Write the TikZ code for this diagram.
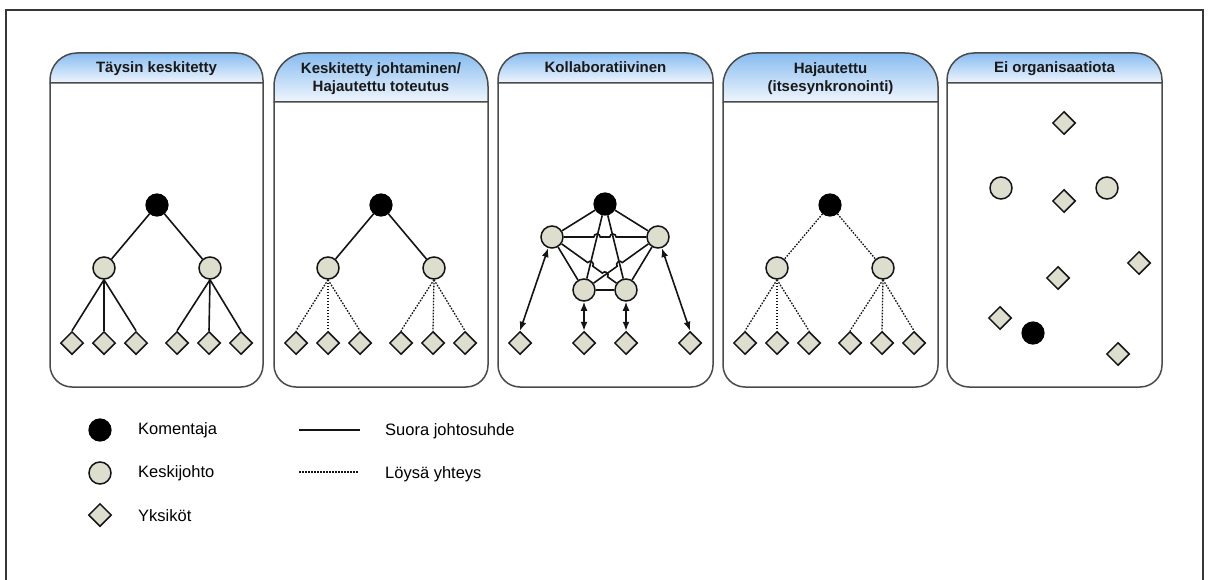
\documentclass[tikz,border=0pt]{standalone}
\usepackage{fontspec}
\setmainfont{Liberation Sans}
\usetikzlibrary{shapes.geometric,arrows.meta,calc}

\definecolor{hdrblue}{RGB}{135,188,240}
\definecolor{hdrlow}{RGB}{240,246,253}
\definecolor{unitfill}{RGB}{221,222,206}
\definecolor{panelcol}{RGB}{75,75,75}
\definecolor{edgecol}{RGB}{20,20,20}
\definecolor{framecol}{RGB}{55,55,55}

\tikzset{
  panelline/.style={draw=panelcol,line width=1.5pt},
  hdr/.style={font=\bfseries\fontsize{15}{18}\selectfont,text=black!90,inner sep=0pt,anchor=base},
  boss/.style={circle,fill=black,draw=black,line width=1.2pt,minimum size=22pt,inner sep=0pt},
  mgr/.style={circle,fill=unitfill,draw=edgecol,line width=1.5pt,minimum size=22pt,inner sep=0pt},
  unit/.style={diamond,aspect=1,fill=unitfill,draw=edgecol,line width=1.5pt,minimum width=23pt,minimum height=23pt,inner sep=0pt},
  edge/.style={draw=edgecol,line width=1.6pt},
  loose/.style={draw=edgecol,line width=1.3pt,dash pattern=on 1.6pt off 1.4pt},
  biarrow/.style={edge,{Latex[length=9pt,width=7pt]}-{Latex[length=9pt,width=7pt]}},
  legtext/.style={font=\fontsize{16.5}{19}\selectfont,inner sep=0pt,anchor=base west},
}

% panel: #1 left, #2 right, #3 header bottom, #4 header corner radius
\newcommand\drawpanel[4]{%
  \shade[top color=hdrblue,bottom color=hdrlow,panelline]
    (#1,#3) -- (#1,53+#4) arc[start angle=180,end angle=90,radius=#4 pt]
    -- (#2-#4,53) arc[start angle=90,end angle=0,radius=#4 pt] -- (#2,#3) -- cycle;
  \draw[panelline] (#1,#3) -- (#1,365)
    arc[start angle=180,end angle=270,radius=22pt] -- (#2-22,387)
    arc[start angle=270,end angle=360,radius=22pt] -- (#2,#3);
}

\begin{document}
\begin{tikzpicture}[x=1pt,y=-1pt]
\useasboundingbox (0,0) rectangle (1209,580);
\fill[white] (0,0) rectangle (1209,580);

% outer frame
\draw[framecol,line width=1.8pt] (6,580) -- (6,10) -- (1203,10) -- (1203,580);

% panels
\drawpanel{50}{263}{83}{27}
\drawpanel{274}{488}{102}{33}
\drawpanel{498}{713}{83}{27}
\drawpanel{723}{938}{102}{33}
\drawpanel{947}{1162}{83}{27}

% headers
\node[hdr] (h1) at (156.5,73) {Täysin keskitetty};
\node[hdr] (h2a) at (381,73.5) {Keskitetty johtaminen/};
\node[hdr] (h2b) at (381,92) {Hajautettu toteutus};
\node[hdr] (h3) at (605.5,73) {Kollaboratiivinen};
\node[hdr] (h4a) at (830.5,73.5) {Hajautettu};
\node[hdr] (h4b) at (830.5,92) {(itsesynkronointi)};
\node[hdr] (h5) at (1054.5,73) {Ei organisaatiota};

% ---- fully centralised
\node[boss] (r1) at (157,205) {};
\node[mgr] (m1a) at (104,268) {};
\node[mgr] (m1b) at (210,268) {};
\foreach \x [count=\i] in {72,104,136} \node[unit] (u1a\i) at (\x,343) {};
\foreach \x [count=\i] in {177,209,241} \node[unit] (u1b\i) at (\x,343) {};
\draw[edge] (r1) -- (m1a);
\draw[edge] (r1) -- (m1b);
\foreach \i in {1,2,3} {
  \draw[edge] (m1a.south) -- (u1a\i.north);
  \draw[edge] (m1b.south) -- (u1b\i.north);
}

% ---- centralised command, distributed execution
\node[boss] (r2) at (381,205) {};
\node[mgr] (m2a) at (328,268) {};
\node[mgr] (m2b) at (434,268) {};
\foreach \x [count=\i] in {296,328,360} \node[unit] (u2a\i) at (\x,343) {};
\foreach \x [count=\i] in {401,433,465} \node[unit] (u2b\i) at (\x,343) {};
\draw[edge] (r2) -- (m2a);
\draw[edge] (r2) -- (m2b);
\foreach \i in {1,2,3} {
  \draw[loose] (m2a.south) -- (u2a\i.north);
  \draw[loose] (m2b.south) -- (u2b\i.north);
}

% ---- collaborative
\node[boss] (r3) at (605,204) {};
\node[mgr] (mL) at (552,237) {};
\node[mgr] (mR) at (658,237) {};
\node[mgr] (bL) at (584,290) {};
\node[mgr] (bR) at (626,290) {};
\node[unit] (u31) at (520,343) {};
\node[unit] (u32) at (584,343) {};
\node[unit] (u33) at (626,343) {};
\node[unit] (u34) at (690,343) {};
\draw[edge] (r3) -- (mL);
\draw[edge] (r3) -- (mR);
\draw[edge] (r3) -- (bL);
\draw[edge] (r3) -- (bR);
\draw[edge] (mL) -- (bL);
\draw[edge] (mR) -- (bR);
\draw[edge] (bL) -- (bR);
% crossing lines jump over the others
\coordinate (j1a) at ($(mL)!0.3945!(mR)$);
\coordinate (j1b) at ($(mL)!0.4545!(mR)$);
\coordinate (j2a) at ($(mL)!0.545!(mR)$);
\coordinate (j2b) at ($(mL)!0.605!(mR)$);
\draw[edge] (mL) -- (j1a)
  .. controls ($(j1a)!4pt!90:(j1b)$) and ($(j1b)!4pt!-90:(j1a)$) .. (j1b) -- (j2a)
  .. controls ($(j2a)!4pt!90:(j2b)$) and ($(j2b)!4pt!-90:(j2a)$) .. (j2b) -- (mR);
\coordinate (k1a) at ($(mL)!0.482!(bR)$);
\coordinate (k1b) at ($(mL)!0.552!(bR)$);
\coordinate (k2a) at ($(mL)!0.681!(bR)$);
\coordinate (k2b) at ($(mL)!0.751!(bR)$);
\draw[edge] (mL) -- (k1a)
  .. controls ($(k1a)!4pt!90:(k1b)$) and ($(k1b)!4pt!-90:(k1a)$) .. (k1b) -- (k2a)
  .. controls ($(k2a)!4pt!90:(k2b)$) and ($(k2b)!4pt!-90:(k2a)$) .. (k2b) -- (bR);
\coordinate (n1a) at ($(mR)!0.482!(bL)$);
\coordinate (n1b) at ($(mR)!0.552!(bL)$);
\draw[edge] (mR) -- (n1a)
  .. controls ($(n1a)!4pt!-90:(n1b)$) and ($(n1b)!4pt!90:(n1a)$) .. (n1b) -- (bL);
\draw[biarrow] (mL) -- (u31.north);
\draw[biarrow] (bL) -- (u32);
\draw[biarrow] (bR) -- (u33);
\draw[biarrow] (mR) -- (u34.north);

% ---- distributed (self-synchronising)
\node[boss] (r4) at (830,205) {};
\node[mgr] (m4a) at (777,268) {};
\node[mgr] (m4b) at (883,268) {};
\foreach \x [count=\i] in {745,777,809} \node[unit] (u4a\i) at (\x,343) {};
\foreach \x [count=\i] in {850,882,914} \node[unit] (u4b\i) at (\x,343) {};
\draw[loose] (r4) -- (m4a);
\draw[loose] (r4) -- (m4b);
\foreach \i in {1,2,3} {
  \draw[loose] (m4a.south) -- (u4a\i.north);
  \draw[loose] (m4b.south) -- (u4b\i.north);
}

% ---- no organisation
\node[unit] (u51) at (1064,123) {};
\node[mgr] (m51) at (1001,188) {};
\node[mgr] (m52) at (1107,188) {};
\node[unit] (u52) at (1064,201) {};
\node[unit] (u53) at (1139,263) {};
\node[unit] (u54) at (1058,278) {};
\node[unit] (u55) at (1000,318) {};
\node[boss] (r5) at (1033,333) {};
\node[unit] (u56) at (1118,354) {};

% ---- legend
\node[boss] (lb) at (100,430) {};
\node[mgr] (lm) at (100,473) {};
\node[unit] (lu) at (100,515) {};
\node[legtext] (tb) at (138,434.6) {Komentaja};
\node[legtext] (tm) at (138,477.6) {Keskijohto};
\node[legtext] (tu) at (138,521) {Yksiköt};
\coordinate (ls1) at (299,430);
\coordinate (ls2) at (360,430);
\coordinate (ld1) at (299,472);
\coordinate (ld2) at (358,472);
\draw[edge] (ls1) -- (ls2);
\draw[loose] (ld1) -- (ld2);
\node[legtext] (ts) at (385,435) {Suora johtosuhde};
\node[legtext] (td) at (385,478) {Löysä yhteys};
\end{tikzpicture}
\end{document}
